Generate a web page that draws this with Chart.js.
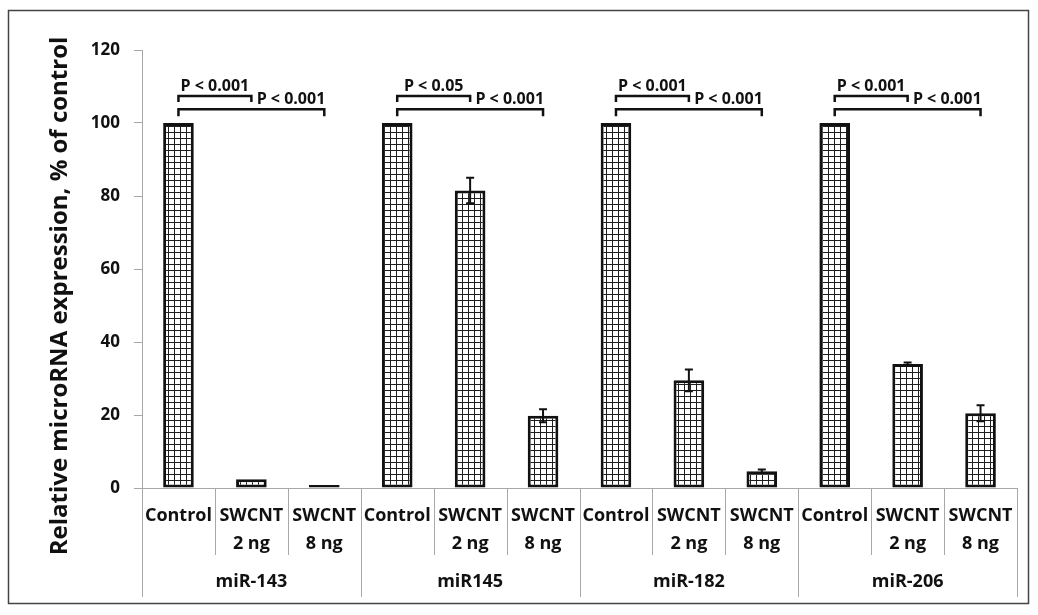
<!DOCTYPE html>
<html>
<head>
<meta charset="utf-8">
<title>Relative microRNA expression</title>
<script src="https://cdn.jsdelivr.net/npm/chart.js@4/dist/chart.umd.min.js"></script>
<style>
  html, body { margin: 0; padding: 0; background: #fff; }
  canvas { display: block; }
</style>
</head>
<body>
<canvas id="chart" width="1038" height="615"></canvas>
<script>
// microRNA groups and treatment conditions
const groups = ['miR-143', 'miR145', 'miR-182', 'miR-206'];
const treatments = [['Control'], ['SWCNT', '2 ng'], ['SWCNT', '8 ng']];

// Relative expression (% of control), in group order, three conditions each
const expression = [100, 2.4, 0.8, 100, 81.5, 19.8, 100, 29.5, 4.6, 100, 34.0, 20.5];
// Error (± value) for each bar
const errors = [0, 0, 0, 0, 3.5, 1.8, 0, 3.0, 0.5, 0, 0.4, 2.2];

// Significance labels: Control vs 2 ng, Control vs 8 ng
const pLow = ['P < 0.001', 'P < 0.05', 'P < 0.001', 'P < 0.001'];
const pHigh = ['P < 0.001', 'P < 0.001', 'P < 0.001', 'P < 0.001'];

const yTicks = [0, 20, 40, 60, 80, 100, 120];
const yTitle = 'Relative microRNA expression, % of control';

const categories = [];
groups.forEach(() => treatments.forEach(t => categories.push(t)));

const FONT = '"Open Sans", "DejaVu Sans", sans-serif';
const INK = '#111';

// grid hatching used to fill the bars
function gridPattern() {
  const c = document.createElement('canvas');
  c.width = 6; c.height = 6;
  const g = c.getContext('2d');
  g.fillStyle = '#fff';
  g.fillRect(0, 0, 6, 6);
  g.fillStyle = '#1e1e1e';
  g.fillRect(0, 0, 6, 1);
  g.fillRect(0, 0, 1, 6);
  return g.createPattern(c, 'repeat');
}

const annotations = {
  id: 'annotations',
  afterDatasetsDraw(chart) {
    const { ctx } = chart;
    const x = chart.scales.x, y = chart.scales.y;
    ctx.save();
    // error bars
    ctx.strokeStyle = INK;
    ctx.lineWidth = 2;
    expression.forEach((v, i) => {
      const e = errors[i];
      if (!e) return;
      const cx = x.getPixelForValue(i);
      const top = y.getPixelForValue(v + e), bot = y.getPixelForValue(v - e);
      ctx.beginPath();
      ctx.moveTo(cx, top); ctx.lineTo(cx, bot);
      ctx.moveTo(cx - 4, top); ctx.lineTo(cx + 4, top);
      ctx.moveTo(cx - 4, bot); ctx.lineTo(cx + 4, bot);
      ctx.stroke();
    });

    // significance brackets
    ctx.lineWidth = 2.5;
    ctx.font = 'bold 16px ' + FONT;
    ctx.fillStyle = INK;
    const yA = y.getPixelForValue(107.4), yB = y.getPixelForValue(103.8);
    groups.forEach((g, gi) => {
      const c0 = x.getPixelForValue(gi * 3);
      const c1 = x.getPixelForValue(gi * 3 + 1);
      const c2 = x.getPixelForValue(gi * 3 + 2);
      ctx.beginPath();
      ctx.moveTo(c0, yA + 6); ctx.lineTo(c0, yA); ctx.lineTo(c1, yA); ctx.lineTo(c1, yA + 6);
      ctx.moveTo(c0, yB + 7); ctx.lineTo(c0, yB); ctx.lineTo(c2, yB); ctx.lineTo(c2, yB + 7);
      ctx.stroke();
      ctx.textBaseline = 'alphabetic';
      ctx.textAlign = 'center';
      ctx.fillText(pLow[gi], (c0 + c1) / 2, yA - 5);
      ctx.textAlign = 'right';
      ctx.fillText(pHigh[gi], c2 + 1, yB - 5);
    });
    ctx.restore();
  },
  afterDraw(chart) {
    const { ctx, chartArea } = chart;
    const x = chart.scales.x;
    const base = chartArea.bottom;
    const n = categories.length;
    const step = (chartArea.right - chartArea.left) / n;
    ctx.save();
    // category table below the axis
    ctx.strokeStyle = '#a8a8a8';
    ctx.lineWidth = 1;
    for (let i = 0; i <= n; i++) {
      const px = Math.round(chartArea.left + i * step) + 0.5;
      const end = (i % 3 === 0) ? base + 109 : base + 67;
      ctx.beginPath();
      ctx.moveTo(px, base); ctx.lineTo(px, end);
      ctx.stroke();
    }
    ctx.fillStyle = INK;
    ctx.font = 'bold 18px ' + FONT;
    ctx.textAlign = 'center';
    ctx.textBaseline = 'middle';
    categories.forEach((lines, i) => {
      const cx = x.getPixelForValue(i);
      lines.forEach((t, li) => ctx.fillText(t, cx, base + 28 + li * 28));
    });
    groups.forEach((g, gi) => {
      const cx = x.getPixelForValue(gi * 3 + 1);
      ctx.fillText(g, cx, base + 94);
    });

    // y-axis title
    ctx.save();
    ctx.translate(60, 296);
    ctx.rotate(-Math.PI / 2);
    ctx.font = 'bold 24px ' + FONT;
    ctx.fillText(yTitle, 0, 0);
    ctx.restore();

    // frame around the figure
    ctx.strokeStyle = '#444';
    ctx.lineWidth = 1.5;
    ctx.strokeRect(8.5, 10.5, 1020, 593);
    ctx.restore();
  }
};

new Chart(document.getElementById('chart'), {
  type: 'bar',
  data: {
    labels: categories.map(c => c.join(' ')),
    datasets: [{
      data: expression,
      backgroundColor: gridPattern(),
      borderColor: INK,
      borderWidth: 3,
      borderSkipped: false,
      categoryPercentage: 1,
      barPercentage: 0.42
    }]
  },
  options: {
    responsive: false,
    devicePixelRatio: 1,
    animation: false,
    layout: { padding: { top: 50, right: 21, bottom: 7, left: 0 } },
    plugins: { legend: { display: false }, tooltip: { enabled: false } },
    scales: {
      x: {
        grid: { display: false },
        ticks: { display: false },
        border: { display: true, color: '#a8a8a8', width: 1 },
        afterFit(scale) { scale.height = 120; }
      },
      y: {
        min: 0, max: 120,
        afterBuildTicks(scale) { scale.ticks = yTicks.map(v => ({ value: v })); },
        grid: { drawOnChartArea: false, drawTicks: true, tickLength: 8, color: '#a8a8a8' },
        border: { display: true, color: '#a8a8a8', width: 1 },
        ticks: { padding: 14, color: INK, font: { family: FONT, size: 17, weight: 'bold' } },
        afterFit(scale) { scale.width = 142; }
      }
    }
  },
  plugins: [annotations]
});
</script>
</body>
</html>
